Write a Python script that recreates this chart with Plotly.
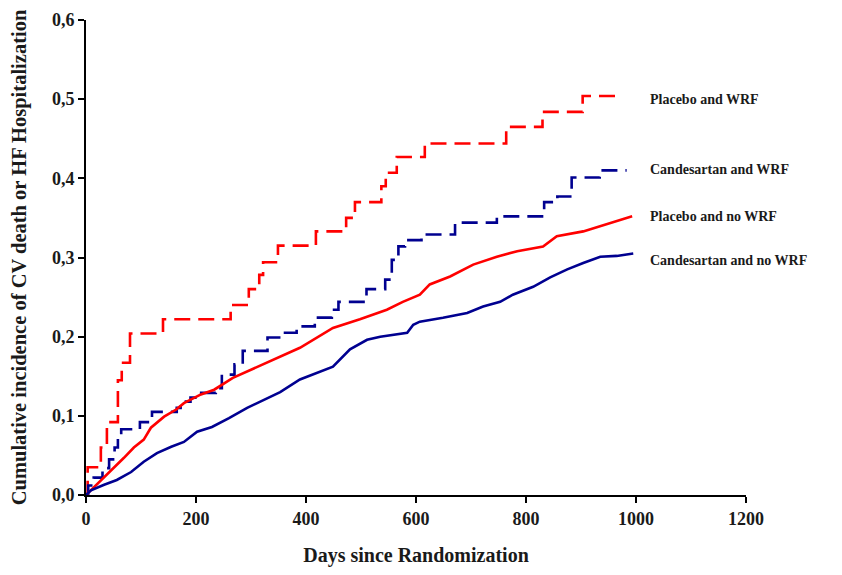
import plotly.graph_objects as go

# Placebo and WRF (red dashed)
pw_days = [0, 3, 27, 38, 58, 65, 80, 140, 263, 296, 315, 322, 349, 418, 473, 489, 537, 545, 565, 616, 764, 830, 903, 962]
pw_vals = [0, 0.035, 0.06, 0.092, 0.145, 0.167, 0.204, 0.222, 0.24, 0.26, 0.278, 0.294, 0.315, 0.333, 0.35, 0.37, 0.39, 0.407, 0.427, 0.444, 0.465, 0.484, 0.504, 0.504]

# Candesartan and WRF (navy dashed)
cw_days = [0, 4, 14, 30, 42, 52, 58, 64, 98, 120, 165, 172, 190, 207, 236, 247, 270, 285, 330, 358, 383, 416, 447, 459, 510, 544, 556, 568, 580, 610, 671, 747, 833, 857, 883, 934, 983]
cw_vals = [0, 0.012, 0.022, 0.034, 0.045, 0.06, 0.072, 0.083, 0.092, 0.105, 0.11, 0.118, 0.123, 0.129, 0.135, 0.152, 0.165, 0.182, 0.199, 0.205, 0.213, 0.224, 0.234, 0.244, 0.26, 0.272, 0.297, 0.314, 0.322, 0.329, 0.344, 0.352, 0.37, 0.377, 0.401, 0.41, 0.41]

# Placebo and no WRF (red solid)
pn_days = [0, 15, 33, 51, 69, 87, 105, 118, 142, 164, 178, 209, 233, 267, 329, 389, 449, 498, 547, 576, 607, 625, 662, 704, 747, 784, 831, 856, 904, 947, 993]
pn_vals = [0, 0.01, 0.023, 0.035, 0.047, 0.06, 0.07, 0.085, 0.099, 0.108, 0.116, 0.127, 0.133, 0.148, 0.167, 0.186, 0.211, 0.222, 0.234, 0.244, 0.253, 0.266, 0.276, 0.291, 0.301, 0.308, 0.314, 0.327, 0.333, 0.342, 0.352]

# Candesartan and no WRF (navy solid)
cn_days = [0, 9, 33, 56, 82, 105, 129, 155, 178, 202, 229, 260, 293, 353, 389, 420, 449, 480, 511, 535, 584, 595, 607, 649, 693, 722, 753, 776, 813, 844, 875, 904, 935, 965, 995]
cn_vals = [0, 0.006, 0.013, 0.019, 0.029, 0.042, 0.053, 0.061, 0.067, 0.08, 0.086, 0.097, 0.11, 0.13, 0.146, 0.154, 0.162, 0.184, 0.196, 0.2, 0.205, 0.215, 0.219, 0.224, 0.23, 0.238, 0.244, 0.253, 0.263, 0.275, 0.285, 0.293, 0.301, 0.302, 0.305]

labels = ["Placebo and WRF", "Candesartan and WRF", "Placebo and no WRF", "Candesartan and no WRF"]
label_y = [0.499, 0.411, 0.352, 0.296]

x_ticks = [0, 200, 400, 600, 800, 1000, 1200]
y_ticks = [0, 0.1, 0.2, 0.3, 0.4, 0.5, 0.6]

RED = "#FF0000"
NAVY = "#000090"
TXT = "#1a1a1a"
font = "Liberation Serif, Times New Roman, serif"

fig = go.Figure()
series = [
    (pw_days, pw_vals, RED, "16px,8px", "hv"),
    (cw_days, cw_vals, NAVY, "16px,8px", "hv"),
    (pn_days, pn_vals, RED, "solid", "linear"),
    (cn_days, cn_vals, NAVY, "solid", "linear"),
]
for (d, v, c, dash, shp), name in zip(series, labels):
    fig.add_trace(go.Scatter(x=d, y=v, mode="lines", name=name,
                             line=dict(color=c, width=2.6, dash=dash, shape=shp),
                             showlegend=False))

for name, yy in zip(labels, label_y):
    fig.add_annotation(x=1022, y=yy, text=name, showarrow=False,
                       xanchor="left", yanchor="middle",
                       font=dict(family=font, size=14, color=TXT, weight="bold"))

fig.update_layout(
    width=834, height=567,
    margin=dict(l=78, r=96, t=12, b=80),
    paper_bgcolor="white", plot_bgcolor="white",
    separators=",.",
    font=dict(family=font, color=TXT),
)
fig.update_xaxes(range=[0, 1200], tickvals=x_ticks, tickformat="d",
                 automargin=False,
                 showgrid=False, zeroline=False,
                 showline=True, linecolor="black", linewidth=2,
                 ticks="outside", ticklen=6, tickwidth=2, tickcolor="black",
                 tickfont=dict(family=font, size=18, color=TXT, weight="bold"),
                 title=dict(text="Days since Randomization",
                            font=dict(family=font, size=20, color=TXT, weight="bold"), standoff=20))
fig.update_yaxes(range=[0, 0.6], tickvals=y_ticks, tickformat=".1f",
                 automargin=False,
                 showgrid=False, zeroline=False,
                 showline=True, linecolor="black", linewidth=2,
                 ticks="outside", ticklen=6, tickwidth=2, tickcolor="black",
                 tickfont=dict(family=font, size=18, color=TXT, weight="bold"),
                 title=dict(text="Cumulative incidence of CV death or HF Hospitalization",
                            font=dict(family=font, size=20.5, color=TXT, weight="bold"), standoff=22))

fig.write_html("out.html")
